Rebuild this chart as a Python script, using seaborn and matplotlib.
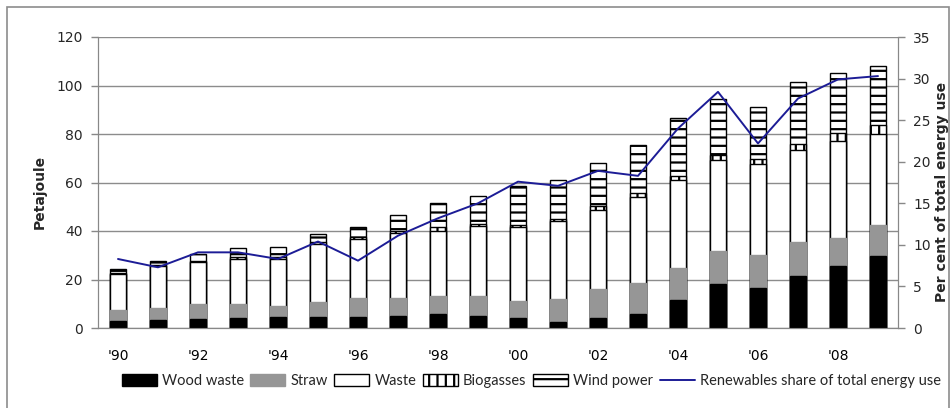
import matplotlib
matplotlib.use("Agg")
import matplotlib.pyplot as plt
from matplotlib.patches import Patch, Rectangle
from matplotlib.lines import Line2D
import numpy as np
import pandas as pd
import seaborn as sns

# Renewable energy production by source, 1990-2009 (PJ) and share of total energy use (%)
years = ["'90", "'91", "'92", "'93", "'94", "'95", "'96", "'97", "'98", "'99",
         "'00", "'01", "'02", "'03", "'04", "'05", "'06", "'07", "'08", "'09"]
wood_waste = [3.0, 3.5, 3.9, 4.1, 4.5, 4.4, 4.4, 5.1, 5.6, 5.1,
              4.0, 2.5, 4.3, 5.8, 11.7, 18.0, 16.3, 21.6, 25.7, 29.8]
straw = [4.5, 4.8, 5.9, 5.8, 4.7, 6.4, 7.9, 7.4, 7.5, 8.0,
         7.0, 9.5, 11.6, 12.9, 13.0, 13.9, 13.9, 13.7, 11.3, 12.8]
waste = [14.7, 17.2, 17.3, 18.7, 19.4, 23.7, 24.5, 26.5, 26.8, 29.1,
         30.7, 32.0, 32.6, 35.3, 36.2, 37.3, 37.5, 38.3, 40.3, 37.5]
biogasses = [0.6, 0.5, 0.6, 0.5, 0.6, 0.8, 0.7, 1.0, 1.6, 0.7,
             0.9, 1.1, 2.0, 1.8, 1.7, 2.0, 2.1, 2.4, 3.1, 3.7]
wind_power = [1.7, 1.6, 3.0, 3.7, 4.2, 3.3, 4.1, 6.4, 10.1, 11.7,
              16.1, 15.8, 17.4, 19.7, 24.1, 23.3, 21.5, 25.4, 24.7, 24.4]
renewables_share = [8.3, 7.3, 9.1, 9.1, 8.3, 10.4, 8.1, 11.1, 13.2, 15.0,
                    17.6, 17.1, 18.9, 18.3, 24.0, 28.4, 22.2, 27.6, 29.9, 30.3]

series_names = ["Wood waste", "Straw", "Waste", "Biogasses", "Wind power"]
df = pd.DataFrame({"year": years, "Wood waste": wood_waste, "Straw": straw,
                   "Waste": waste, "Biogasses": biogasses, "Wind power": wind_power})
cum = df[series_names].cumsum(axis=1)

sns.set_style("white")
plt.rcParams["font.family"] = ["DejaVu Sans"]
plt.rcParams["hatch.linewidth"] = 1.6

fig = plt.figure(figsize=(9.52, 4.08), dpi=100)
ax = fig.add_axes([98 / 952, 1 - 328 / 408, 800 / 952, 291 / 408])

styles = {
    "Wind power": dict(color="white", hatch="--"),
    "Biogasses": dict(color="white", hatch="||"),
    "Waste": dict(color="white", hatch=None),
    "Straw": dict(color="#969696", hatch=None),
    "Wood waste": dict(color="black", hatch=None),
}
edge = {"Straw": "#969696"}

# Stacked bars: draw cumulative totals from the top series down
for name in reversed(series_names):
    st = styles[name]
    sns.barplot(x=df["year"], y=cum[name], order=years, ax=ax,
                color=st["color"], saturation=1, width=0.42,
                edgecolor=edge.get(name, "black"), linewidth=1.0,
                hatch=st["hatch"], zorder=3)

ax.set_ylim(0, 120)
ax.set_yticks(np.arange(0, 121, 20))
ax.set_xlim(-0.5, len(years) - 0.5)
ax.set_xticks(range(0, len(years), 2))
ax.set_xticklabels(years[::2])
ax.set_xticks(np.arange(-0.5, len(years), 1), minor=True)
ax.tick_params(axis="x", which="major", length=0, pad=15, labelsize=10, colors="black")
ax.tick_params(axis="x", which="minor", length=5, width=1, color="#888888", direction="out")
ax.tick_params(axis="y", length=5, width=1, color="#888888", direction="out", labelsize=10, pad=6)
ax.yaxis.grid(True, color="#8c8c8c", linewidth=1)
ax.set_axisbelow(True)
ax.set_xlabel("")
ax.set_ylabel("")
for s in ["left", "bottom", "right"]:
    ax.spines[s].set_color("#888888")
ax.spines["top"].set_visible(False)
fig.text(40 / 952, 0.53, "Petajoule", rotation=90, fontsize=10,
         fontweight="bold", ha="center", va="center")

ax2 = ax.twinx()
sns.lineplot(x=np.arange(len(years)), y=renewables_share, ax=ax2, color="#1c1c96",
             linewidth=1.4, zorder=5)
ax2.set_ylim(0, 35)
ax2.set_yticks(np.arange(0, 36, 5))
ax2.tick_params(axis="y", length=5, width=1, color="#888888", direction="out", labelsize=10, pad=6)
for s in ["left", "bottom", "right"]:
    ax2.spines[s].set_color("#888888")
ax2.spines["top"].set_visible(False)
ax2.set_ylabel("")
fig.text(942 / 952, 0.53, "Per cent of total energy use", rotation=90, fontsize=10,
         fontweight="bold", ha="center", va="center")

handles = [
    Patch(facecolor="black", edgecolor="black"),
    Patch(facecolor="#969696", edgecolor="#969696"),
    Patch(facecolor="white", edgecolor="black"),
    Patch(facecolor="white", edgecolor="black", hatch="||"),
    Patch(facecolor="white", edgecolor="black", hatch="--"),
    Line2D([0], [0], color="#1c1c96", linewidth=1.4),
]
fig.legend(handles, series_names + ["Renewables share of total energy use"],
           loc="center", bbox_to_anchor=(0.558, 0.066), ncol=6, frameon=False,
           prop={"family": ["Liberation Sans Narrow", "Lato", "DejaVu Sans"], "size": 10.5},
           handlelength=2.4, handleheight=0.8, handletextpad=0.35, columnspacing=0.45)

# Chart frame
fig.patches.append(Rectangle((7 / 952, -0.1), 942 / 952, 1.1 - 7 / 408,
                             transform=fig.transFigure, fill=False,
                             edgecolor="#8c8c8c", linewidth=1.2))

fig.savefig("out.png", dpi=100)
